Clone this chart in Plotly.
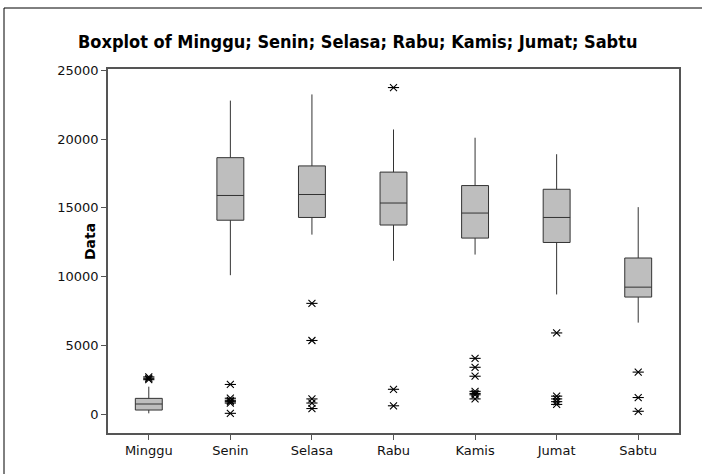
import plotly.graph_objects as go

# Days of the week and box statistics
days = ["Minggu", "Senin", "Selasa", "Rabu", "Kamis", "Jumat", "Sabtu"]
q1 = [290, 14100, 14300, 13750, 12800, 12480, 8510]
median = [730, 15900, 15970, 15350, 14620, 14300, 9230]
q3 = [1140, 18650, 18050, 17600, 16620, 16350, 11350]
lower_whisker = [50, 10100, 13050, 11150, 11600, 8700, 6650]
upper_whisker = [1990, 22800, 23250, 20700, 20100, 18900, 15050]

# Outliers per day
outliers = {
    "Minggu": [2500, 2600, 2700],
    "Senin": [2150, 1150, 1000, 900, 800, 50],
    "Selasa": [8050, 5350, 1100, 800, 400],
    "Rabu": [23750, 1800, 600],
    "Kamis": [4050, 3400, 2750, 1650, 1500, 1400, 1100],
    "Jumat": [5900, 1300, 1100, 900, 700],
    "Sabtu": [3050, 1200, 200],
}

y_ticks = [0, 5000, 10000, 15000, 20000, 25000]

out_x = [d for d in days for _ in outliers[d]]
out_y = [v for d in days for v in outliers[d]]

fig = go.Figure()
fig.add_trace(go.Box(
    x=days, q1=q1, median=median, q3=q3,
    lowerfence=lower_whisker, upperfence=upper_whisker,
    boxpoints=False, width=0.33, whiskerwidth=0,
    fillcolor="#BEBEBE", line=dict(color="#333333", width=1),
    showlegend=False, hoverinfo="skip",
))
# Asterisk markers built from an x and a horizontal bar
for sym in ["x-thin-open", "line-ew-open"]:
    fig.add_trace(go.Scatter(
        x=out_x, y=out_y, mode="markers",
        marker=dict(symbol=sym, size=7 if sym == "x-thin-open" else 8,
                    line=dict(color="black", width=1.1), color="black"),
        showlegend=False, hoverinfo="skip",
    ))

axis_col = "#555555"
# Page frame: left and top edges only
fx0, fy1 = (4 - 108) / 571, (433 - 8) / 364
fig.update_layout(
    width=702, height=474,
    margin=dict(l=108, r=23, t=69, b=41),
    paper_bgcolor="white", plot_bgcolor="white",
    font=dict(family="DejaVu Sans", size=13, color="#111111"),
    xaxis=dict(
        categoryorder="array", categoryarray=days, range=[-0.5, 6.5],
        showline=True, linecolor=axis_col, linewidth=1.5, mirror=True,
        ticks="outside", ticklen=5, tickcolor=axis_col, showgrid=False,
        zeroline=False,
    ),
    yaxis=dict(
        range=[-1380, 25100], tickvals=y_ticks, tickformat="d",
        showline=True, linecolor=axis_col, linewidth=1.5, mirror=True,
        ticks="outside", ticklen=5, tickcolor=axis_col, showgrid=False,
        zeroline=False,
    ),
    annotations=[
        dict(text="<b>Boxplot of Minggu; Senin; Selasa; Rabu; Kamis; Jumat; Sabtu</b>",
             xref="paper", yref="paper", x=(358 - 108) / 571, y=(433 - 41) / 364,
             xanchor="center", yanchor="middle", showarrow=False,
             font=dict(family="DejaVu Sans Condensed", size=18, color="black")),
        dict(text="<b>Data</b>", xref="paper", yref="paper",
             x=(90 - 108) / 571, y=(433 - 242) / 364, textangle=-90,
             xanchor="center", yanchor="middle", showarrow=False,
             font=dict(family="DejaVu Sans", size=14, color="black")),
    ],
    shapes=[
        dict(type="line", xref="paper", yref="paper",
             x0=fx0, x1=(720 - 108) / 571, y0=fy1, y1=fy1,
             line=dict(color="black", width=1), layer="below"),
        dict(type="line", xref="paper", yref="paper",
             x0=fx0, x1=fx0, y0=fy1, y1=(433 - 500) / 364,
             line=dict(color="black", width=1), layer="below"),
    ],
)

fig.write_html("out.html")
